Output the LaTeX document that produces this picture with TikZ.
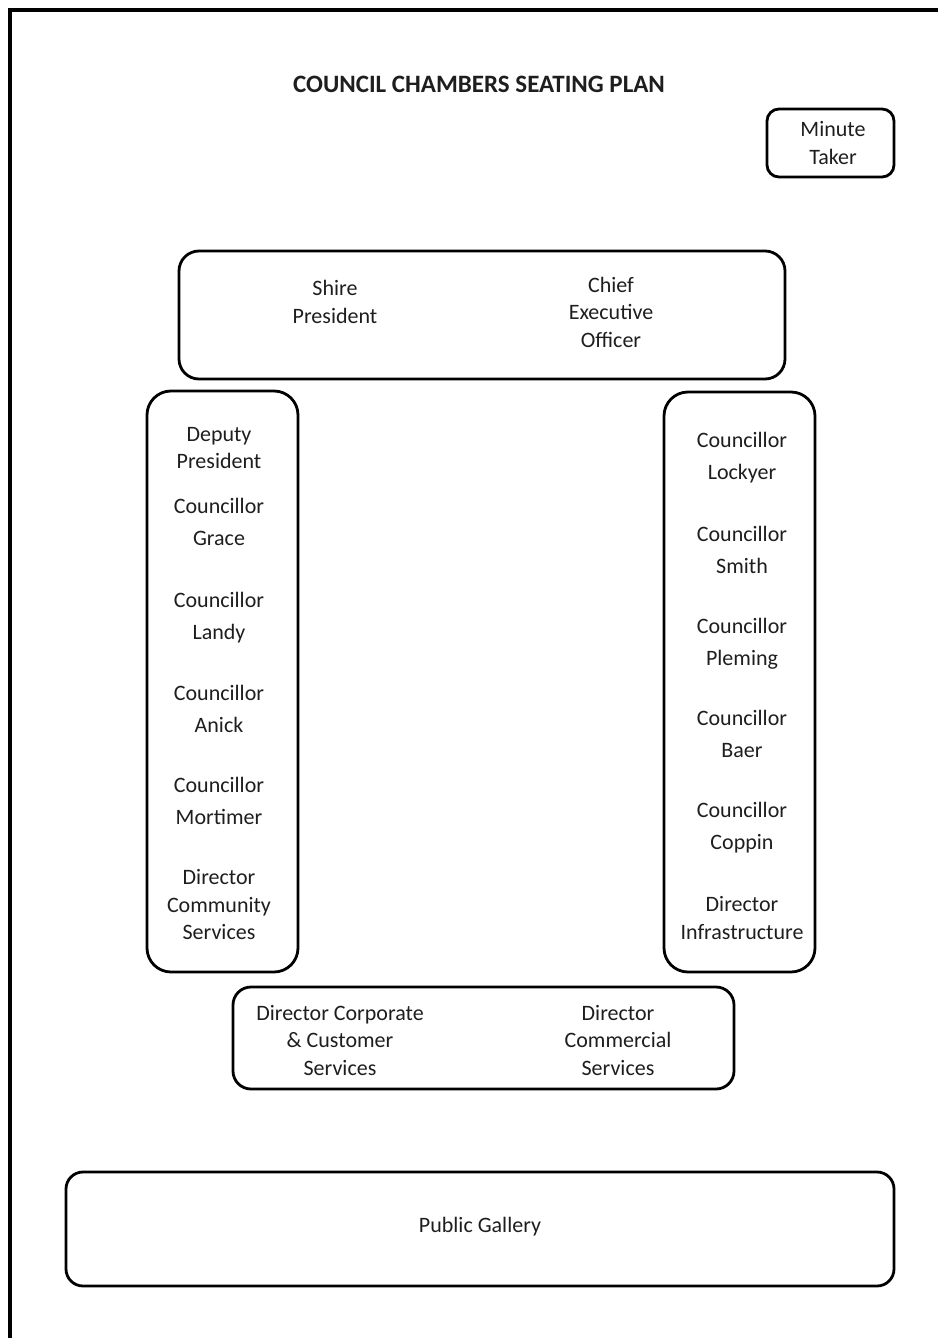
\documentclass[tikz,border=0pt]{standalone}
\usepackage{fontspec}
\setmainfont{Carlito}
\usetikzlibrary{positioning}
\definecolor{ink}{RGB}{30,30,30}

\begin{document}
\begin{tikzpicture}[x=1pt,y=-1pt]
\tikzset{font={\fontsize{22}{27.5}\selectfont}}
\tikzset{table/.style={draw,line width=2.8pt,rounded corners=20pt}}
\tikzset{seat/.style={align=center,text=ink,inner sep=0pt}}
\useasboundingbox (0,0) rectangle (938,1338);

%Frame
\draw[line width=4pt] (10,1338) -- (10,10) -- (938,10);
\node[seat,font={\fontsize{25}{30}\selectfont\bfseries}] (title) at (479,84) {COUNCIL CHAMBERS SEATING PLAN};

%Minute taker
\draw[table,rounded corners=12pt] (767,109) rectangle (894,177);
\node[seat] (minute) at (833,143) {Minute\\Taker};

%Top table
\draw[table] (179,251) rectangle (785,379);
\node[seat] (shire) at (335,302) {Shire\\President};
\node[seat] (ceo) at (611,312) {Chief\\Executive\\Officer};

%Left table
\draw[table,rounded corners=24pt] (147,391) rectangle (298,972);
\node[seat] (deputy) at (219,448) {Deputy\\President};
\foreach \name/\y [count=\i] in {Grace/522,Landy/618,Anick/709,Mortimer/801}
\node[seat] (left\i) at (219,\y) {Councillor\\[4.5pt]\name};
\node[seat] (dircs) at (219,905) {Director\\Community\\Services};

%Right table
\draw[table,rounded corners=24pt] (664,392) rectangle (815,972);
\foreach \name/\y [count=\i] in {Lockyer/458,Smith/550,Pleming/644,Baer/734,Coppin/828}
\node[seat] (right\i) at (742,\y) {Councillor\\[4.5pt]\name};
\node[seat] (dirinf) at (742,918) {Director\\Infrastructure};

%Bottom table
\draw[table,rounded corners=18pt] (233,987) rectangle (734,1089);
\node[seat] (dircorp) at (340,1040) {Director Corporate\\\& Customer\\Services};
\node[seat] (dircom) at (618,1040) {Director\\Commercial\\Services};

%Gallery
\draw[table,rounded corners=17pt] (66,1172) rectangle (894,1286);
\node[seat] (gallery) at (480,1227) {Public Gallery};

\end{tikzpicture}
\end{document}
